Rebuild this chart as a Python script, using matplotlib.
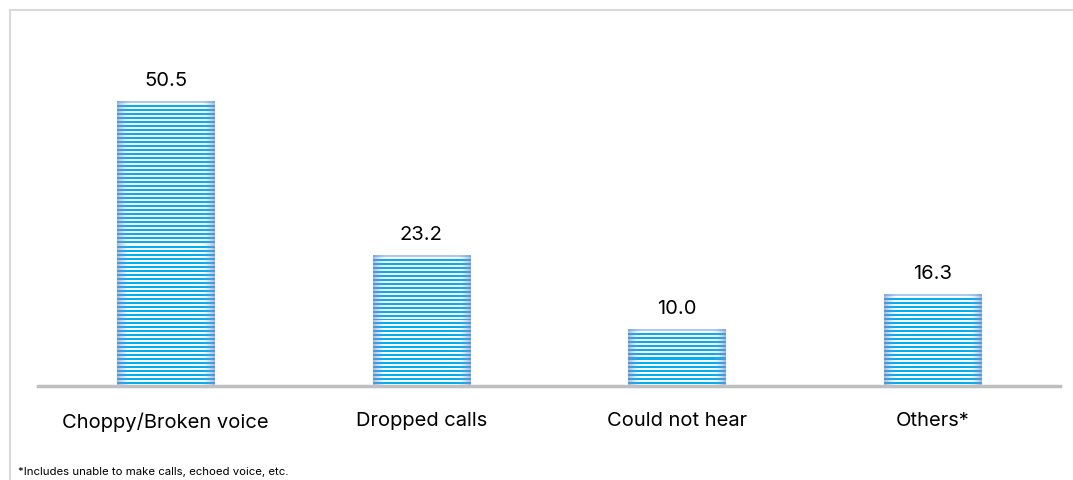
import numpy as np
import matplotlib
matplotlib.use("Agg")
import matplotlib.pyplot as plt
from matplotlib.lines import Line2D

categorias = ["Choppy/Broken voice", "Dropped calls", "Could not hear", "Others*"]
valores = [50.5, 23.2, 10.0, 16.3]
rotulos = ["50.5", "23.2", "10.0", "16.3"]
nota = "*Includes unable to make calls, echoed voice, etc."

plt.rcParams['font.family'] = ['Inter', 'DejaVu Sans']

fig = plt.figure(figsize=(10.73, 4.8), dpi=100)
ax = fig.add_axes([38 / 1073, (480 - 386) / 480, 1022 / 1073, 338 / 480])

x = np.arange(len(categorias))
barras = ax.bar(x, valores, width=0.38, color="none", edgecolor="none")

ax.set_xlim(-0.5, 3.5)
ax.set_ylim(0, 60)

# listras horizontais (~4 px) com degradê nas bordas laterais
azul = np.array([0.0, 0.69, 0.94])
borda = np.array([0.36, 0.58, 0.85])
px_por_unidade = 338 / 60
n_col = 97
t = np.abs(np.linspace(-1, 1, n_col))
peso = np.clip((t - 0.72) / 0.28, 0, 1) ** 1.5
linha_azul = azul[None, :] * (1 - peso[:, None]) + borda[None, :] * peso[:, None]
linha_branca = np.ones((n_col, 3)) * (1 - 0.6 * peso[:, None]) + borda[None, :] * 0.6 * peso[:, None]

for b, txt in zip(barras, rotulos):
    x0, y0 = b.get_x(), b.get_y()
    w, h = b.get_width(), b.get_height()
    n_listras = int(round(h * px_por_unidade / 4))
    img = np.empty((n_listras * 2, n_col, 3))
    img[0::2] = linha_azul
    img[1::2] = linha_branca
    img[0] = linha_branca * 0.5 + borda[None, :] * 0.5
    ax.imshow(img, extent=(x0, x0 + w, y0, y0 + h), aspect="auto",
              interpolation="nearest", origin="upper", zorder=2)
    ax.text(x0 + w / 2, y0 + h + 2.0, txt,
            ha="center", va="bottom", fontsize=14.5, color="#000000")

ax.set_aspect("auto")
for lado in ["top", "right", "left"]:
    ax.spines[lado].set_visible(False)
ax.spines["bottom"].set_color("#BFBFBF")
ax.spines["bottom"].set_linewidth(2.5)
ax.spines["bottom"].set_zorder(3)
ax.set_yticks([])
ax.set_xticks(x)
ax.set_xticklabels(categorias, fontsize=14.5)
ax.tick_params(axis="x", length=0, pad=19)

# moldura cinza do gráfico
fig.add_artist(Line2D([9.5 / 1073, 1], [1 - 9.5 / 480] * 2, color="#D9D9D9", lw=1.5))
fig.add_artist(Line2D([9.5 / 1073] * 2, [0, 1 - 9.5 / 480], color="#D9D9D9", lw=1.5))

fig.text(18 / 1073, 1 - 472 / 480, nota, fontsize=8.2, va="center", ha="left")

fig.savefig("out.png", dpi=100)
